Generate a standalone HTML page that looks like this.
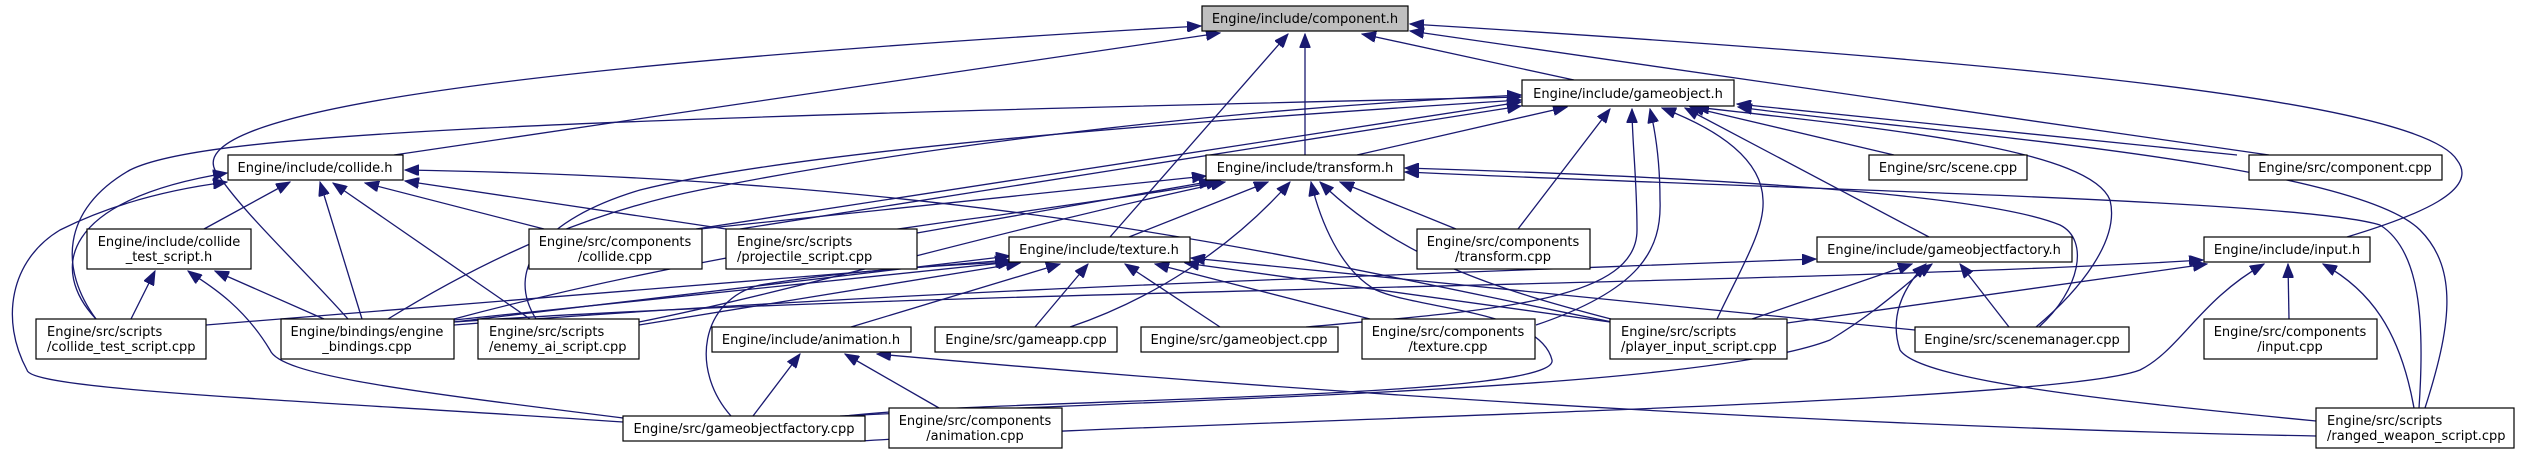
<!DOCTYPE html>
<html><head><meta charset="utf-8"><style>
html,body{margin:0;padding:0;background:#fff;}
svg{display:block;}
text{font-family:"DejaVu Sans","Liberation Sans",sans-serif;font-size:13px;fill:#000;}
.b{fill:#fff;stroke:#000;stroke-width:1.2;}
.e{fill:none;stroke:#191970;stroke-width:1.3;marker-end:url(#a);}
</style></head><body>
<svg width="2521" height="455" viewBox="0 0 2521 455" xmlns="http://www.w3.org/2000/svg">
<defs><marker id="a" markerUnits="userSpaceOnUse" markerWidth="15" markerHeight="11" refX="14" refY="5.5" orient="auto"><path d="M0,0 L14,5.5 L0,11 z" fill="#191970" stroke="#191970"/></marker></defs>
<g>
<path class="e" d="M1574,80 L1362,34"/>
<path class="e" d="M1305,155 L1305,34"/>
<path class="e" d="M1110,237 L1288,34"/>
<path class="e" d="M394,155 L1220,33"/>
<path class="e" d="M348,319 C300,265 240,210 215,170 C190,120 420,70 1201,26"/>
<path class="e" d="M2269,155 L1410,31"/>
<path class="e" d="M2347,237 C2420,215 2480,190 2457,160 C2420,100 2000,60 1410,24"/>
<path class="e" d="M1357,155 L1567,107"/>
<path class="e" d="M1518,229 L1610,109"/>
<path class="e" d="M1306,327 C1500,310 1637,300 1637,230 C1637,180 1632,140 1632,109"/>
<path class="e" d="M1536,325 C1640,290 1662,250 1660,200 C1660,160 1655,130 1650,109"/>
<path class="e" d="M1717,319 C1740,270 1765,230 1763,200 C1762,160 1720,130 1662,108"/>
<path class="e" d="M1929,237 L1685,108"/>
<path class="e" d="M1894,155 L1690,107"/>
<path class="e" d="M2036,327 C2080,290 2120,240 2110,200 C2090,150 1900,130 1695,107"/>
<path class="e" d="M2237,155 L1737,104"/>
<path class="e" d="M2425,408 C2450,330 2460,270 2420,230 C2350,160 1900,130 1738,107"/>
<path class="e" d="M96,319 C60,270 60,210 130,170 C200,135 500,120 1521,97"/>
<path class="e" d="M696,229 L1521,102"/>
<path class="e" d="M740,229 L1521,106"/>
<path class="e" d="M536,319 C505,270 540,220 640,190 C800,150 1200,120 1521,100"/>
<path class="e" d="M388,319 C500,250 600,210 700,190 C900,150 1200,110 1521,95"/>
<path class="e" d="M454,325 C900,290 1400,275 1816,259"/>
<path class="e" d="M700,229 L1206,176"/>
<path class="e" d="M917,233 L1213,181"/>
<path class="e" d="M454,319 C600,280 800,240 1000,215 C1100,200 1180,190 1220,181"/>
<path class="e" d="M639,322 C800,290 1000,230 1225,182"/>
<path class="e" d="M1129,237 L1268,182"/>
<path class="e" d="M1070,327 C1150,300 1230,250 1290,182"/>
<path class="e" d="M1456,229 L1340,182"/>
<path class="e" d="M845,416 C1000,398 1560,400 1552,360 C1540,310 1420,310 1376,290 C1340,270 1320,220 1311,182"/>
<path class="e" d="M1611,319 C1500,290 1400,260 1320,182"/>
<path class="e" d="M2419,408 C2425,320 2420,250 2380,225 C2300,200 1800,190 1405,172"/>
<path class="e" d="M2039,327 C2080,290 2090,240 2060,225 C2000,200 1800,180 1405,168"/>
<path class="e" d="M204,229 L290,182"/>
<path class="e" d="M362,319 L320,182"/>
<path class="e" d="M530,319 L333,183"/>
<path class="e" d="M544,229 L365,183"/>
<path class="e" d="M726,229 L405,181"/>
<path class="e" d="M1612,322 C1300,260 1000,180 405,170"/>
<path class="e" d="M96,319 C50,270 60,200 227,173"/>
<path class="e" d="M623,422 C300,400 30,390 27,370 C0,320 10,260 60,230 C120,200 180,188 227,182"/>
<path class="e" d="M131,319 L155,271"/>
<path class="e" d="M324,319 L215,271"/>
<path class="e" d="M623,418 C400,390 280,375 270,350 C240,300 200,280 188,271"/>
<path class="e" d="M206,325 L1009,260"/>
<path class="e" d="M454,322 L1010,256"/>
<path class="e" d="M454,320 L1012,262"/>
<path class="e" d="M639,325 L1020,263"/>
<path class="e" d="M851,327 L1060,264"/>
<path class="e" d="M1035,327 L1088,264"/>
<path class="e" d="M1220,327 L1125,264"/>
<path class="e" d="M1370,319 L1155,264"/>
<path class="e" d="M1610,322 L1185,263"/>
<path class="e" d="M1915,330 L1191,258"/>
<path class="e" d="M731,416 C690,370 700,300 760,285 C850,270 950,265 1010,262"/>
<path class="e" d="M753,416 L800,354"/>
<path class="e" d="M939,408 L845,354"/>
<path class="e" d="M2316,436 C2000,430 1500,410 877,354"/>
<path class="e" d="M1752,319 L1912,264"/>
<path class="e" d="M840,416 C1200,398 1700,390 1830,340 C1880,310 1910,280 1932,264"/>
<path class="e" d="M2009,327 L1960,264"/>
<path class="e" d="M2316,421 C2100,400 1920,380 1900,350 C1890,320 1900,290 1926,264"/>
<path class="e" d="M860,441 C1200,420 2050,405 2140,370 C2180,350 2200,300 2264,264"/>
<path class="e" d="M2289,319 L2288,264"/>
<path class="e" d="M2414,408 C2400,330 2370,290 2323,264"/>
<path class="e" d="M1787,323 L2207,264"/>
<path class="e" d="M454,322 C900,290 1800,285 2203,260"/>
</g>
<g>
<rect x="1202" y="6" width="206" height="25" fill="#bfbfbf" stroke="#000" stroke-width="1.2"/><text x="1305" y="23" text-anchor="middle">Engine/include/component.h</text>
<rect class="b" x="1522" y="80" width="212" height="26"/><text x="1628" y="98" text-anchor="middle">Engine/include/gameobject.h</text>
<rect class="b" x="1206" y="155" width="198" height="25"/><text x="1305" y="172" text-anchor="middle">Engine/include/transform.h</text>
<rect class="b" x="228" y="155" width="175" height="25"/><text x="315" y="172" text-anchor="middle">Engine/include/collide.h</text>
<rect class="b" x="87" y="229" width="164" height="40"/><text x="169" y="246" text-anchor="middle">Engine/include/collide</text><text x="169" y="261" text-anchor="middle">_test_script.h</text>
<rect class="b" x="529" y="229" width="173" height="40"/><text x="615" y="246" text-anchor="middle">Engine/src/components</text><text x="615" y="261" text-anchor="middle">/collide.cpp</text>
<rect class="b" x="726" y="229" width="191" height="40"/><text x="737" y="246">Engine/src/scripts</text><text x="737" y="261">/projectile_script.cpp</text>
<rect class="b" x="1009" y="237" width="181" height="25"/><text x="1099" y="254" text-anchor="middle">Engine/include/texture.h</text>
<rect class="b" x="1417" y="229" width="173" height="40"/><text x="1503" y="246" text-anchor="middle">Engine/src/components</text><text x="1503" y="261" text-anchor="middle">/transform.cpp</text>
<rect class="b" x="1869" y="155" width="158" height="25"/><text x="1948" y="172" text-anchor="middle">Engine/src/scene.cpp</text>
<rect class="b" x="2249" y="155" width="193" height="25"/><text x="2345" y="172" text-anchor="middle">Engine/src/component.cpp</text>
<rect class="b" x="1817" y="237" width="255" height="25"/><text x="1944" y="254" text-anchor="middle">Engine/include/gameobjectfactory.h</text>
<rect class="b" x="2204" y="237" width="166" height="25"/><text x="2287" y="254" text-anchor="middle">Engine/include/input.h</text>
<rect class="b" x="36" y="319" width="170" height="40"/><text x="47" y="336">Engine/src/scripts</text><text x="47" y="351">/collide_test_script.cpp</text>
<rect class="b" x="281" y="319" width="173" height="40"/><text x="367" y="336" text-anchor="middle">Engine/bindings/engine</text><text x="367" y="351" text-anchor="middle">_bindings.cpp</text>
<rect class="b" x="478" y="319" width="161" height="40"/><text x="489" y="336">Engine/src/scripts</text><text x="489" y="351">/enemy_ai_script.cpp</text>
<rect class="b" x="712" y="327" width="199" height="25"/><text x="811" y="344" text-anchor="middle">Engine/include/animation.h</text>
<rect class="b" x="935" y="327" width="182" height="25"/><text x="1026" y="344" text-anchor="middle">Engine/src/gameapp.cpp</text>
<rect class="b" x="1141" y="327" width="197" height="25"/><text x="1239" y="344" text-anchor="middle">Engine/src/gameobject.cpp</text>
<rect class="b" x="1362" y="319" width="173" height="40"/><text x="1448" y="336" text-anchor="middle">Engine/src/components</text><text x="1448" y="351" text-anchor="middle">/texture.cpp</text>
<rect class="b" x="1610" y="319" width="177" height="40"/><text x="1621" y="336">Engine/src/scripts</text><text x="1621" y="351">/player_input_script.cpp</text>
<rect class="b" x="1915" y="327" width="214" height="25"/><text x="2022" y="344" text-anchor="middle">Engine/src/scenemanager.cpp</text>
<rect class="b" x="2204" y="319" width="173" height="40"/><text x="2290" y="336" text-anchor="middle">Engine/src/components</text><text x="2290" y="351" text-anchor="middle">/input.cpp</text>
<rect class="b" x="623" y="416" width="242" height="25"/><text x="744" y="433" text-anchor="middle">Engine/src/gameobjectfactory.cpp</text>
<rect class="b" x="889" y="408" width="173" height="40"/><text x="975" y="425" text-anchor="middle">Engine/src/components</text><text x="975" y="440" text-anchor="middle">/animation.cpp</text>
<rect class="b" x="2316" y="408" width="198" height="40"/><text x="2327" y="425">Engine/src/scripts</text><text x="2327" y="440">/ranged_weapon_script.cpp</text>
</g>
</svg>
</body></html>
